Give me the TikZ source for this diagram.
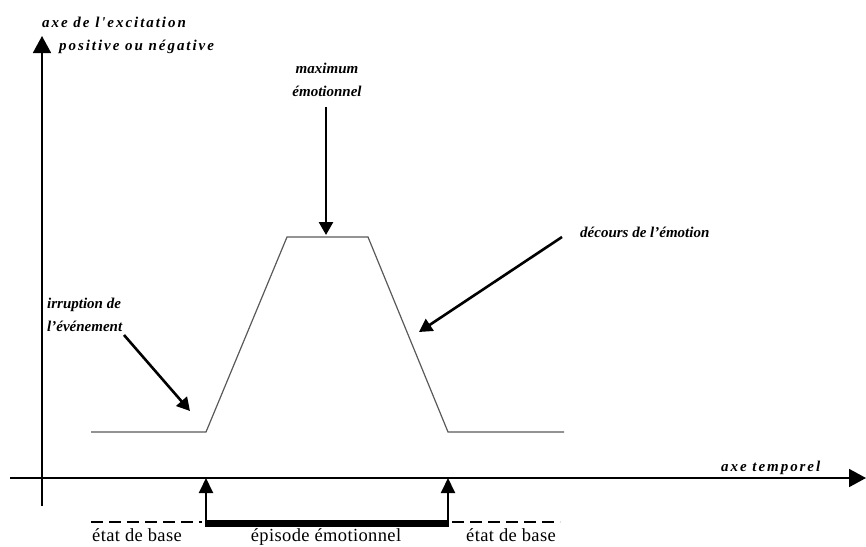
\documentclass[tikz,border=0pt]{standalone}
\usepackage{fontspec}
\setmainfont{Liberation Serif}
\newfontfamily\spacedserif[LetterSpace=13]{Liberation Serif}
\newfontfamily\widerserif[LetterSpace=2]{Liberation Serif}
\usetikzlibrary{arrows.meta}
\begin{document}
\begin{tikzpicture}[x=1pt,y=-1pt,
  lbl/.style={font=\fontsize{15}{23}\selectfont\bfseries\itshape, inner sep=0pt, align=center},
  slbl/.style={font=\spacedserif\fontsize{15}{23}\selectfont\bfseries\itshape, inner sep=0pt},
  plain/.style={font=\widerserif\fontsize{18.5}{22}\selectfont, inner sep=0pt},
  axis/.style={line width=1.8pt, -{Triangle[length=17pt,width=18pt]}},
  pointer/.style={line width=2.6pt, -{Triangle[length=13pt,width=14pt]}},
  uparrow/.style={line width=2pt, -{Triangle[length=15pt,width=14pt]}},
  curve/.style={line width=1.2pt, draw=black!65},
  basedash/.style={line width=1.8pt, dash pattern=on 12pt off 6pt}]
\useasboundingbox (0,0) rectangle (866,546);
% axes
\coordinate (vy0) at (42,506);
\coordinate (vy1) at (42,36);
\draw[axis] (vy0) -- (vy1);
\coordinate (hx0) at (10,478);
\coordinate (hx1) at (866,478);
\draw[axis] (hx0) -- (hx1);
% curve
\coordinate (c0) at (91,432);
\coordinate (c1) at (206,432);
\coordinate (c2) at (287,237);
\coordinate (c3) at (368,237);
\coordinate (c4) at (448,432);
\coordinate (c5) at (564,432);
\draw[curve] (c0) -- (c1) -- (c2) -- (c3) -- (c4) -- (c5);
% labels
\node[slbl, anchor=base west] (ya1) at (42,27) {axe de l'excitation};
\node[slbl, anchor=base west] (ya2) at (59,50) {positive ou négative};
\node[lbl, anchor=base] (max) at (327,96) {maximum\\émotionnel};
\node[lbl, align=left, anchor=base west] (irr) at (47,331) {irruption de\\l'événement};
\node[lbl, anchor=base west] (dec) at (580,237) {décours de l'émotion};
\node[slbl, anchor=base west] (tmp) at (721,471) {axe temporel};
% pointer arrows
\coordinate (maxs) at (326,107);
\coordinate (maxe) at (326,235);
\draw[pointer] (maxs) -- (maxe);
\coordinate (irrs) at (124,335);
\coordinate (irre) at (190,411);
\draw[pointer] (irrs) -- (irre);
\coordinate (decs) at (562,237);
\coordinate (dece) at (419,332);
\draw[pointer] (decs) -- (dece);
% episode
\coordinate (ea) at (206,523);
\coordinate (eb) at (448,523);
\coordinate (eat) at (206,478);
\coordinate (ebt) at (448,478);
\draw[uparrow] (ea) -- (eat);
\draw[uparrow] (eb) -- (ebt);
\draw[line width=7pt] ([xshift=-1pt]ea) -- ([xshift=1pt]eb);
\coordinate (d0) at (91,522);
\coordinate (d1) at (202,522);
\coordinate (d2) at (452,522);
\coordinate (d3) at (560,522);
\draw[basedash] (d0) -- (d1);
\draw[basedash] (d2) -- (d3);
\node[plain, anchor=base] (b1) at (137,541) {état de base};
\node[plain, anchor=base] (ep) at (326,541) {épisode émotionnel};
\node[plain, anchor=base] (b2) at (511,541) {état de base};
\end{tikzpicture}
\end{document}
